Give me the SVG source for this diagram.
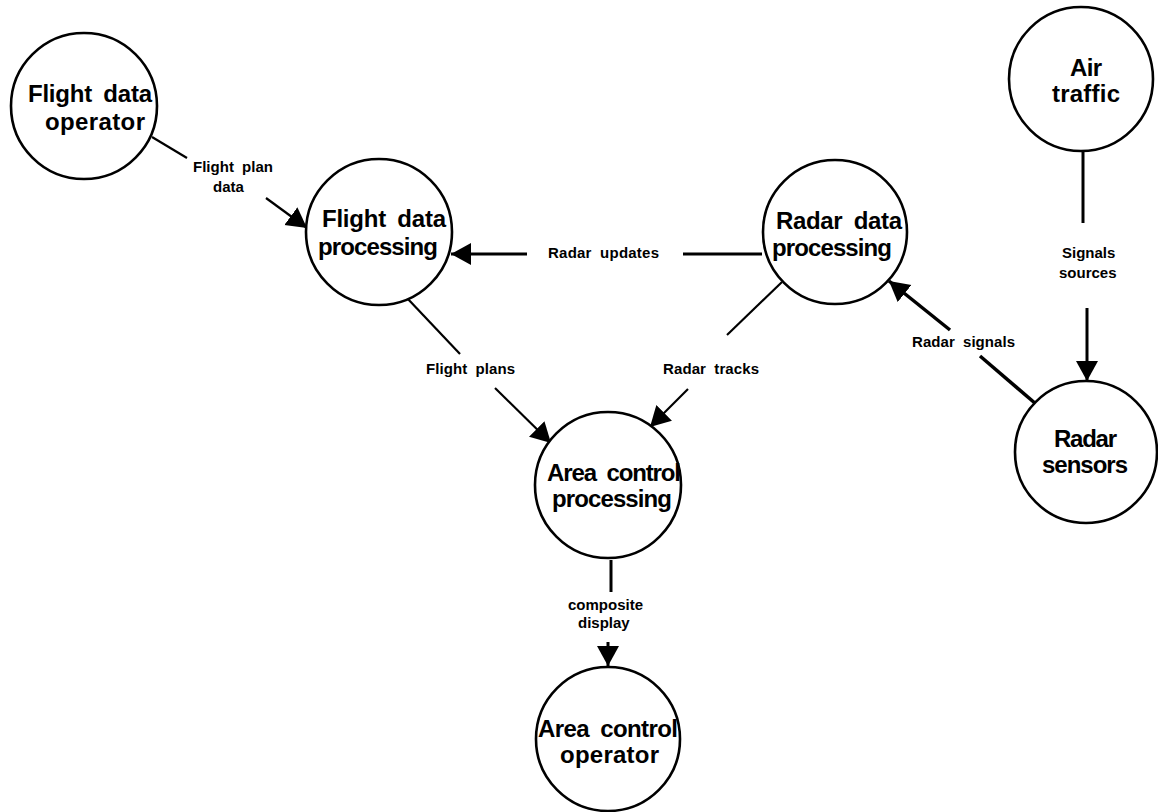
<svg xmlns="http://www.w3.org/2000/svg" width="1158" height="812" viewBox="0 0 1158 812">
<style>
.node{fill:#fff;stroke:#000;stroke-width:2.6}
.nl{font-family:"Liberation Sans",Arial,sans-serif;font-weight:bold;font-size:24px;fill:#000;word-spacing:5px}
.el{font-family:"Liberation Sans",Arial,sans-serif;font-weight:bold;font-size:15px;fill:#000;word-spacing:4px}
.c{fill:none;stroke:#000;stroke-width:2.2}
.t{stroke-width:3}
</style>
<defs>
<marker id="ah" markerUnits="userSpaceOnUse" markerWidth="22" markerHeight="24" refX="20" refY="11" orient="auto" viewBox="0 0 22 22">
<path d="M0,0 L20,11 L0,22 z" fill="#000"/>
</marker>
</defs>
<rect width="1158" height="812" fill="#fff"/>
<g id="connectors">
<g id="c-flightplandata">
<line class="c" x1="152" y1="137" x2="187" y2="158"/>
<line class="c" x1="266" y1="198" x2="307" y2="228" marker-end="url(#ah)"/>
<text class="el" x="193" y="172" textLength="80" lengthAdjust="spacing">Flight plan</text>
<text class="el" x="213" y="192">data</text>
</g>
<g id="c-radarupdates">
<line class="c t" x1="762" y1="254" x2="683" y2="254"/>
<line class="c t" x1="527" y1="254" x2="451" y2="254" marker-end="url(#ah)"/>
<text class="el" x="548" y="258" textLength="111" lengthAdjust="spacing">Radar updates</text>
</g>
<g id="c-flightplans">
<line class="c" x1="407" y1="298" x2="460" y2="354"/>
<line class="c" x1="495" y1="388" x2="551" y2="443" marker-end="url(#ah)"/>
<text class="el" x="426" y="374" textLength="89" lengthAdjust="spacing">Flight plans</text>
</g>
<g id="c-radartracks">
<line class="c" x1="782" y1="282" x2="727" y2="335"/>
<line class="c" x1="688" y1="389" x2="650" y2="427" marker-end="url(#ah)"/>
<text class="el" x="663" y="374" textLength="96" lengthAdjust="spacing">Radar tracks</text>
</g>
<g id="c-radarsignals">
<line class="c" style="stroke-width:3.5" x1="1036" y1="404" x2="980" y2="356"/>
<line class="c" style="stroke-width:3.5" x1="950" y1="330" x2="889" y2="281" marker-end="url(#ah)"/>
<text class="el" x="912" y="347" textLength="103" lengthAdjust="spacing">Radar signals</text>
</g>
<g id="c-signalssources">
<line class="c t" x1="1083" y1="150" x2="1083" y2="223"/>
<line class="c t" x1="1087" y1="308" x2="1087" y2="381" marker-end="url(#ah)"/>
<text class="el" x="1062" y="258">Signals</text>
<text class="el" x="1059" y="278">sources</text>
</g>
<g id="c-composite">
<line class="c t" x1="611" y1="560" x2="611" y2="592"/>
<line class="c t" x1="608" y1="642" x2="608" y2="666" marker-end="url(#ah)"/>
<text class="el" x="568" y="610" textLength="75" lengthAdjust="spacing">composite</text>
<text class="el" x="578" y="628">display</text>
</g>
</g>
<g id="n-flightdataoperator">
<circle class="node" cx="84" cy="106" r="73"/>
<text class="nl" x="28" y="102" textLength="124" lengthAdjust="spacing">Flight data</text>
<text class="nl" x="45" y="130" textLength="100" lengthAdjust="spacing">operator</text>
</g>
<g id="n-flightdataprocessing">
<circle class="node" cx="379" cy="232" r="73"/>
<text class="nl" x="322" y="227" textLength="124" lengthAdjust="spacing">Flight data</text>
<text class="nl" x="318" y="255" textLength="120" lengthAdjust="spacing">processing</text>
</g>
<g id="n-radardataprocessing">
<circle class="node" cx="835" cy="232" r="72"/>
<text class="nl" x="776" y="229" textLength="126" lengthAdjust="spacing">Radar data</text>
<text class="nl" x="772" y="256" textLength="120" lengthAdjust="spacing">processing</text>
</g>
<g id="n-airtraffic">
<circle class="node" cx="1081" cy="79" r="72"/>
<text class="nl" x="1070" y="76" textLength="32" lengthAdjust="spacing">Air</text>
<text class="nl" x="1052" y="102" textLength="68" lengthAdjust="spacing">traffic</text>
</g>
<g id="n-radarsensors">
<circle class="node" cx="1086" cy="452" r="71"/>
<text class="nl" x="1054" y="447" textLength="63" lengthAdjust="spacing">Radar</text>
<text class="nl" x="1042" y="473" textLength="86" lengthAdjust="spacing">sensors</text>
</g>
<g id="n-areacontrolprocessing">
<circle class="node" cx="608" cy="485" r="73"/>
<text class="nl" x="547" y="481" textLength="134" lengthAdjust="spacing">Area control</text>
<text class="nl" x="552" y="507" textLength="120" lengthAdjust="spacing">processing</text>
</g>
<g id="n-areacontroloperator">
<circle class="node" cx="608" cy="739" r="72"/>
<text class="nl" x="538" y="737" textLength="140" lengthAdjust="spacing">Area control</text>
<text class="nl" x="560" y="763" textLength="99" lengthAdjust="spacing">operator</text>
</g>
</svg>
